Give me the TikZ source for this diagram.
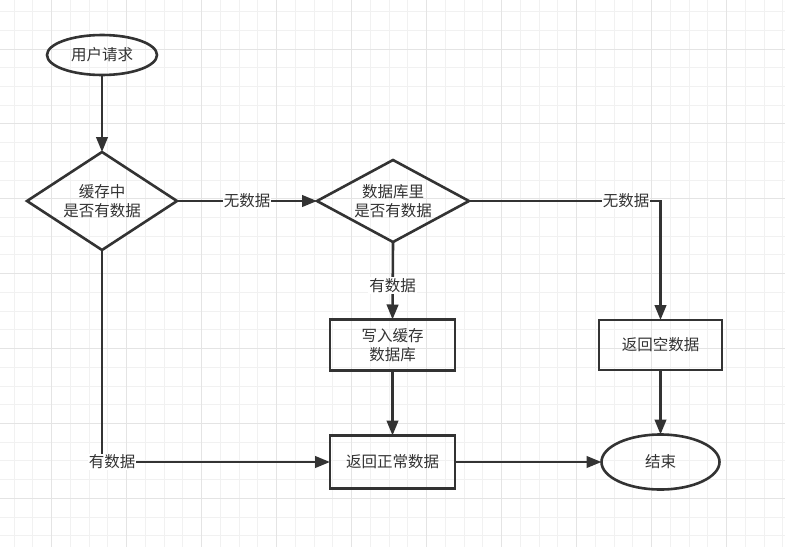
\documentclass[tikz,border=0pt]{standalone}
\usepackage{fontspec}
\newfontfamily\cjk{Noto Sans CJK SC}
\usetikzlibrary{shapes.geometric,arrows.meta}
\definecolor{ink}{HTML}{333333}
\definecolor{gridminor}{HTML}{F1F1F1}
\definecolor{gridmajor}{HTML}{E4E4E4}
\tikzset{
  txt/.style={text=ink, font=\cjk\fontsize{15.5}{19.4}\selectfont, align=center},
  shapeline/.style={draw=ink, line width=2.6pt},
  term/.style={ellipse, shapeline, txt, inner sep=0pt, outer sep=0pt},
  dec/.style={diamond, shapeline, txt, inner sep=0pt, outer sep=0pt},
  proc/.style={rectangle, shapeline, txt, inner sep=0pt, outer sep=0pt, minimum width=125pt, minimum height=51pt},
  conn/.style={draw=ink, line width=2.6pt, -{Triangle[length=15pt,width=11.5pt]}},
  lbl/.style={txt, fill=white, inner sep=1pt},
  gminor/.style={draw=gridminor, line width=1pt},
  gmajor/.style={draw=gridmajor, line width=1pt}
}
\begin{document}
\begin{tikzpicture}[x=1pt,y=-1pt]
\fill[white] (0,0) rectangle (785,547);
\useasboundingbox (0,0) rectangle (785,547);
% grid
\foreach \i in {0,...,41} { \draw[gminor] ({14.2+18.75*\i},0) -- ({14.2+18.75*\i},547); }
\foreach \j in {0,...,29} { \draw[gminor] (0,{11.55+18.725*\j}) -- (785,{11.55+18.725*\j}); }
\foreach \i in {0,...,9} { \draw[gmajor] ({51.7+75*\i},0) -- ({51.7+75*\i},547); }
\foreach \j in {0,...,6} { \draw[gmajor] (0,{49+74.9*\j}) -- (785,{49+74.9*\j}); }
% nodes
\node[term, minimum width=110pt, minimum height=40pt] (start) at (102,55) {用户请求};
\node[dec, shape aspect=1.5, minimum width=150pt, minimum height=98pt] (d1) at (102,201) {缓存中\\是否有数据};
\node[dec, shape aspect=1.85, minimum width=152pt, minimum height=82pt] (d2) at (393,201) {数据库里\\是否有数据};
\node[proc] (write) at (392.5,345) {写入缓存\\数据库};
\node[proc, minimum height=53pt] (normal) at (392.5,462) {返回正常数据};
\node[proc, minimum width=123pt, minimum height=50pt] (empty) at (660.5,345) {返回空数据};
\node[term, minimum width=118pt, minimum height=55pt] (end) at (660.5,462) {结束};
% connectors
\draw[conn] (start) -- (d1);
\draw[conn] (d1.east) -- node[lbl] {无数据} (d2.west);
\draw[conn] (d2.east) -| node[lbl, pos=0.41] {无数据} (empty.north);
\draw[conn] (d2.south) -- node[lbl, pos=0.56] {有数据} (write.north);
\draw[conn] (write) -- (normal);
\draw[conn] (empty) -- (end);
\draw[conn] (d1.south) |- node[lbl, pos=0.5, xshift=10pt] {有数据} (normal.west);
\draw[conn] (normal) -- (end);
\end{tikzpicture}
\end{document}
